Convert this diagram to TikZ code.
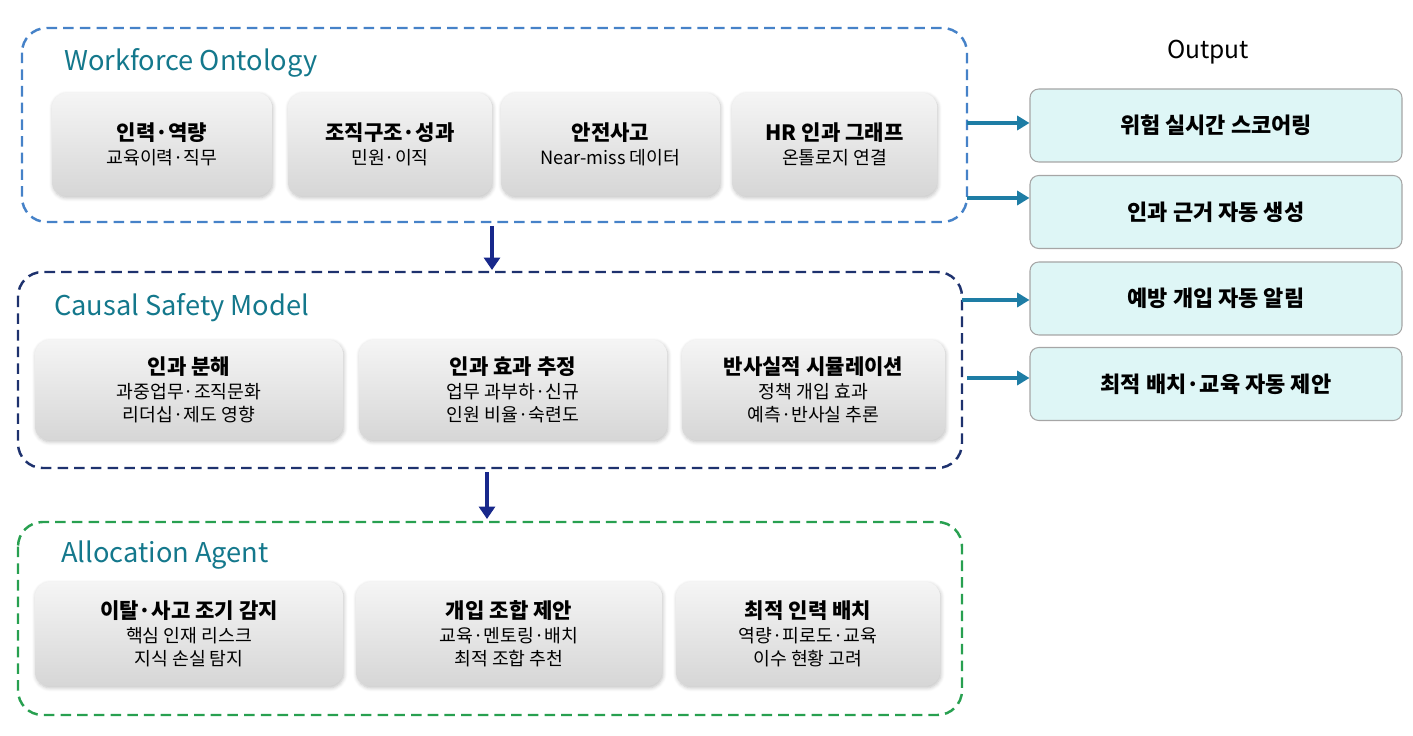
\documentclass[tikz,border=0pt]{standalone}
\usepackage{fontspec}
\setmainfont{Noto Sans CJK KR}
\usetikzlibrary{calc,shadows.blur,arrows.meta}
\definecolor{woblue}{RGB}{70,130,200}
\definecolor{csnavy}{RGB}{30,50,110}
\definecolor{aagreen}{RGB}{40,160,80}
\definecolor{ttl}{RGB}{20,120,140}
\definecolor{outfill}{RGB}{222,246,246}
\definecolor{arr}{RGB}{30,125,165}
\tikzset{
   layer/.style={draw=#1, dash pattern=on 6pt off 3.5pt, line width=1.4pt, rounded corners=14pt},
   module/.style={rounded corners=8pt, top color=black!4, bottom color=black!16,
                  draw=none, blur shadow={shadow blur steps=6, shadow xshift=0.5pt, shadow yshift=-1pt, shadow opacity=25},
                  align=center, font=\fontsize{10.4}{13.5}\selectfont},
   output/.style={rounded corners=5pt, fill=outfill, draw=black!35, line width=0.6pt,
                  font=\bfseries\fontsize{12.5}{14}\selectfont},
   title/.style={anchor=west, text=ttl, font=\fontsize{15.5}{17}\selectfont}
}
\newcommand{\mtwo}[3]{\textbf{\fontsize{12}{15}\selectfont #1}\\#2\ifx&#3&\else\\#3\fi}
\begin{document}
\begin{tikzpicture}[x=0.02cm,y=-0.02cm]
\useasboundingbox (0,0) rectangle (1413,736);
% layers
\draw[layer=woblue] (22,28) rectangle (967,222);
\draw[layer=csnavy] (18,272) rectangle (962,468);
\draw[layer=aagreen] (18,522) rectangle (962,715);
\node[title] (t1) at (58,63) {Workforce Ontology};
\node[title] (t2) at (48,308) {Causal Safety Model};
\node[title] (t3) at (55,555) {Allocation Agent};
% workforce ontology
\node[module, minimum width=220*0.02cm, minimum height=103*0.02cm] (w1) at (162,144.5) {\mtwo{인력·역량}{교육이력·직무}{}};
\node[module, minimum width=204*0.02cm, minimum height=103*0.02cm] (w2) at (390,144.5) {\mtwo{조직구조·성과}{민원·이직}{}};
\node[module, minimum width=219*0.02cm, minimum height=103*0.02cm] (w3) at (610.5,144.5) {\mtwo{안전사고}{Near-miss 데이터}{}};
\node[module, minimum width=205*0.02cm, minimum height=103*0.02cm] (w4) at (834.5,144.5) {\mtwo{HR 인과 그래프}{온톨로지 연결}{}};
% causal safety model
\node[module, minimum width=308*0.02cm, minimum height=100*0.02cm] (c1) at (189,390) {\mtwo{인과 분해}{과중업무·조직문화}{리더십·제도 영향}};
\node[module, minimum width=308*0.02cm, minimum height=100*0.02cm] (c2) at (513,390) {\mtwo{인과 효과 추정}{업무 과부하·신규}{인원 비율·숙련도}};
\node[module, minimum width=263*0.02cm, minimum height=100*0.02cm] (c3) at (813.5,390) {\mtwo{반사실적 시뮬레이션}{정책 개입 효과}{예측·반사실 추론}};
% allocation agent
\node[module, minimum width=308*0.02cm, minimum height=104*0.02cm] (a1) at (189,634) {\mtwo{이탈·사고 조기 감지}{핵심 인재 리스크}{지식 손실 탐지}};
\node[module, minimum width=306*0.02cm, minimum height=104*0.02cm] (a2) at (509,634) {\mtwo{개입 조합 제안}{교육·멘토링·배치}{최적 조합 추천}};
\node[module, minimum width=264*0.02cm, minimum height=104*0.02cm] (a3) at (808,634) {\mtwo{최적 인력 배치}{역량·피로도·교육}{이수 현황 고려}};
% outputs
\node[font=\fontsize{14}{16}\selectfont] (out) at (1208,52) {Output};
\foreach \n/\y/\t in {o1/125.5/위험 실시간 스코어링, o2/212/인과 근거 자동 생성, o3/298.5/예방 개입 자동 알림, o4/384/최적 배치·교육 자동 제안}
  \node[output, minimum width=372*0.02cm, minimum height=73*0.02cm] (\n) at (1216,\y) {\t};
% connectors
\coordinate (s1) at (967,123);
\coordinate (s2) at (967,198);
\coordinate (s3) at (962,300);
\coordinate (s4) at (967,378);
\foreach \s/\o in {s1/o1,s2/o2,s3/o3,s4/o4}
  \draw[arr, line width=2pt, -{Triangle[length=7pt,width=8pt]}] (\s) -- (\s -| \o.west);
\coordinate (d1) at (492,226);
\coordinate (d2) at (487,472);
\draw[csnavy!80!blue, line width=2.5pt, -{Triangle[length=7pt,width=9pt]}] (d1) -- (492,270);
\draw[csnavy!80!blue, line width=2.5pt, -{Triangle[length=7pt,width=9pt]}] (d2) -- (487,519);
\end{tikzpicture}
\end{document}
